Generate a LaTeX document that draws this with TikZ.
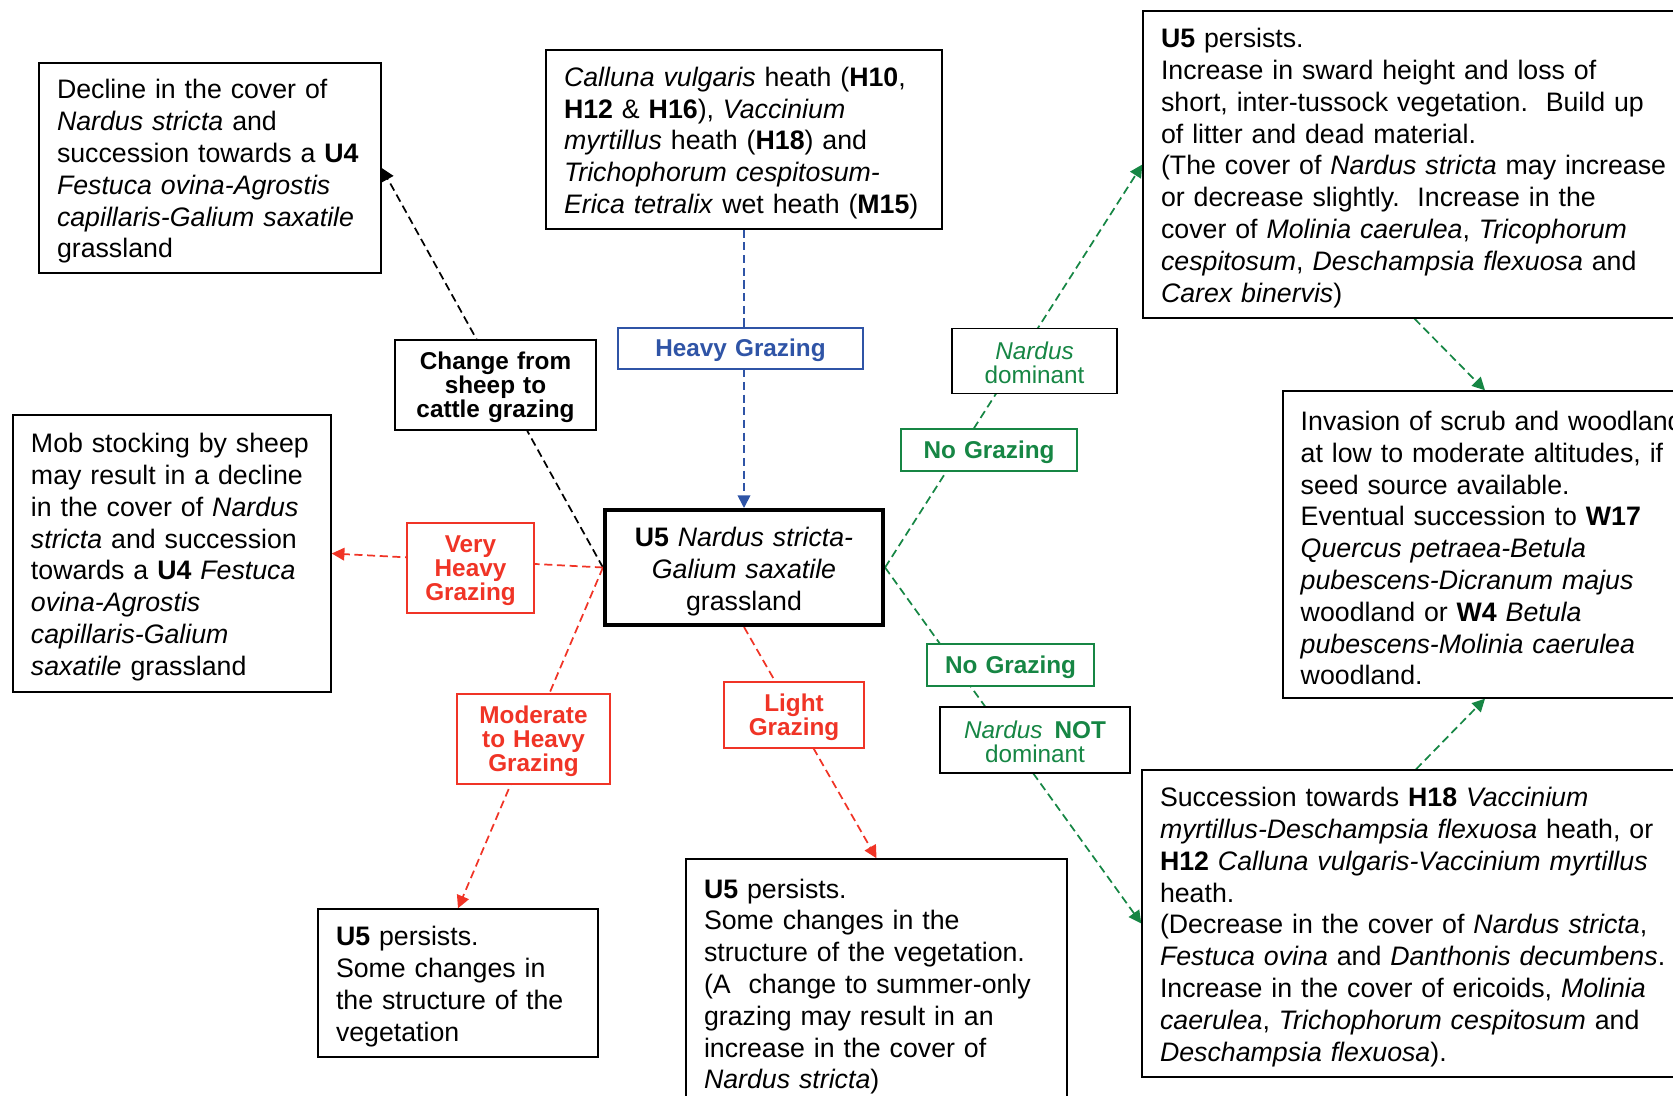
\documentclass[tikz,border=0pt]{standalone}
\usepackage{fontspec}
\setmainfont{Liberation Sans}
\usepackage{xcolor}
\usepackage{tikz}
\usetikzlibrary{arrows.meta,backgrounds}
\definecolor{grazeblue}{RGB}{47,84,166}
\definecolor{grazered}{RGB}{240,52,38}
\definecolor{grazegreen}{RGB}{22,134,68}
\newcommand\bodyfont{\fontsize{11.6pt}{13.8pt}\selectfont}
\newcommand\lblfont{\fontsize{10.55pt}{10.4pt}\selectfont}

\begin{document}
\begin{tikzpicture}[
  x=0.434pt, y=-0.434pt,
  notebox/.style={
    rectangle, draw=black, line width=0.65pt,
    align=left, font=\bodyfont,
    inner xsep=7.8pt, inner ysep=0pt,
    execute at begin node={\rule{0pt}{11.5pt}}
  },
  mainbox/.style={
    rectangle, draw=black, line width=1.75pt,
    align=center, font=\bodyfont, inner sep=0pt,
    execute at begin node={\rule{0pt}{11.8pt}}
  },
  lblbox/.style={
    rectangle, fill=white, line width=0.65pt,
    align=center, font=\lblfont\bfseries, inner sep=0pt,
    execute at begin node={\rule{0pt}{9.4pt}}
  },
  bluelbl/.style={lblbox, draw=grazeblue, text=grazeblue},
  redlbl/.style={lblbox, draw=grazered, text=grazered},
  greenlbl/.style={lblbox, draw=grazegreen, text=grazegreen},
  blklbl/.style={lblbox, draw=black},
  nardlbl/.style={lblbox, draw=black, text=grazegreen, font=\lblfont},
  arr/.style={-{Triangle[length=5.5pt,width=5.5pt]}, line width=0.75pt,
    dash pattern=on 3.5pt off 2pt},
  barr/.style={arr, grazeblue},
  rarr/.style={arr, grazered},
  garr/.style={arr, grazegreen},
  karr/.style={arr, black}
]
\path[use as bounding box] (0,0) rectangle (1673,1096);

% vegetation boxes
\node[notebox, text width=132.8pt, minimum height=91.1pt] (decline) at (210,168)
  {Decline in the cover of\\
   \textit{Nardus stricta} and\\
   succession towards a \textbf{U4}\\
   \textit{Festuca ovina-Agrostis}\\
   \textit{capillaris-Galium saxatile}\\
   grassland};

\node[notebox, text width=156.2pt, minimum height=77.7pt] (heaths) at (744,139.5)
  {\textit{Calluna vulgaris} heath (\textbf{H10},\\
   \textbf{H12} \& \textbf{H16}), \textit{Vaccinium}\\
   \textit{myrtillus} heath (\textbf{H18}) and\\
   \textit{Trichophorum cespitosum-}\\
   \textit{Erica tetralix} wet heath (\textbf{M15})};

\node[mainbox, text width=120.7pt, minimum height=49.9pt] (centre) at (744,567.5)
  {\textbf{U5} \textit{Nardus stricta-}\\
   \textit{Galium saxatile}\\
   grassland};

\node[notebox, text width=220pt, minimum height=133.2pt] (sward) at (1414.5,164.5)
  {\textbf{U5} persists.\\
   Increase in sward height and loss of\\
   short, inter-tussock vegetation.\ \ Build up\\
   of litter and dead material.\\
   (The cover of \textit{Nardus stricta} may increase\\
   or decrease slightly.\ \ Increase in the\\
   cover of \textit{Molinia caerulea}, \textit{Tricophorum}\\
   \textit{cespitosum}, \textit{Deschampsia flexuosa} and\\
   \textit{Carex binervis})};

\node[notebox, text width=175.3pt, minimum height=133.2pt, anchor=west] (woodland) at (1282,544.5)
  {Invasion of scrub and woodland\\
   at low to moderate altitudes, if\\
   seed source available.\\
   Eventual succession to \textbf{W17}\\
   \textit{Quercus petraea-Betula}\\
   \textit{pubescens-Dicranum majus}\\
   woodland or \textbf{W4} \textit{Betula}\\
   \textit{pubescens-Molinia caerulea}\\
   woodland.};

\node[notebox, text width=122.4pt, minimum height=120.2pt] (mob) at (172,553.5)
  {Mob stocking by sheep\\
   may result in a decline\\
   in the cover of \textit{Nardus}\\
   \textit{stricta} and succession\\
   towards a \textbf{U4} \textit{Festuca}\\
   \textit{ovina-Agrostis}\\
   \textit{capillaris-Galium}\\
   \textit{saxatile} grassland};

\node[notebox, text width=222.2pt, minimum height=133.2pt] (heathsucc) at (1416,923.5)
  {Succession towards \textbf{H18} \textit{Vaccinium}\\
   \textit{myrtillus-Deschampsia flexuosa} heath, or\\
   \textbf{H12} \textit{Calluna vulgaris-Vaccinium myrtillus}\\
   heath.\\
   (Decrease in the cover of \textit{Nardus stricta},\\
   \textit{Festuca ovina} and \textit{Danthonis decumbens}.\\
   Increase in the cover of ericoids, \textit{Molinia}\\
   \textit{caerulea}, \textit{Trichophorum cespitosum} and\\
   \textit{Deschampsia flexuosa}).};

\node[notebox, text width=105.9pt, minimum height=64.2pt] (persistmod) at (458,983)
  {\textbf{U5} persists.\\
   Some changes in\\
   the structure of the\\
   vegetation};

\node[notebox, text width=149.7pt, minimum height=107.6pt] (persistlight) at (876.5,983)
  {\textbf{U5} persists.\\
   Some changes in the\\
   structure of the vegetation.\\
   (A\ \ change to summer-only\\
   grazing may result in an\\
   increase in the cover of\\
   \textit{Nardus stricta})};

% grazing labels sit on top of the connectors
\node[bluelbl, text width=106.3pt, minimum height=17.8pt] (heavy) at (740.5,348.5) {Heavy Grazing};
\node[blklbl, text width=87.2pt, minimum height=39.1pt] (cattle) at (495.5,385) {Change from\\sheep to\\cattle grazing};
\node[redlbl, text width=55.1pt, minimum height=39.1pt] (vheavy) at (470.5,568) {Very\\Heavy\\Grazing};
\node[redlbl, text width=66.4pt, minimum height=39.1pt] (modheavy) at (533.5,739) {Moderate\\to Heavy\\Grazing};
\node[redlbl, text width=60.8pt, minimum height=28.6pt] (light) at (794,715) {Light\\Grazing};
\node[greenlbl, text width=76.4pt, minimum height=18.2pt] (nograzeA) at (989,450) {No Grazing};
\node[greenlbl, text width=72.5pt, minimum height=18.2pt] (nograzeB) at (1010.5,665) {No Grazing};
\node[nardlbl, text width=71.6pt, minimum height=28.2pt] (nardA) at (1034.5,361) {\textit{Nardus}\\dominant};
\node[nardlbl, text width=82.5pt, minimum height=28.6pt] (nardB) at (1035,740) {\textit{Nardus}\enspace\textbf{NOT}\\dominant};

\begin{scope}[on background layer]
  \draw[barr] (heaths.south) -- (centre.north);
  \draw[karr] (centre.west) -- (decline.east);
  \draw[rarr] (centre.west) -- (mob.east);
  \draw[rarr] (centre.west) -- (persistmod.north);
  \draw[rarr] (centre.south) -- (persistlight.north);
  \draw[garr] (centre.east) -- (sward.west);
  \draw[garr] (centre.east) -- (heathsucc.west);
  \draw[garr] (sward.south) -- ([xshift=88.1pt]woodland.north west);
  \draw[garr] (heathsucc.north) -- ([xshift=88.1pt]woodland.south west);
\end{scope}

\end{tikzpicture}
\end{document}
